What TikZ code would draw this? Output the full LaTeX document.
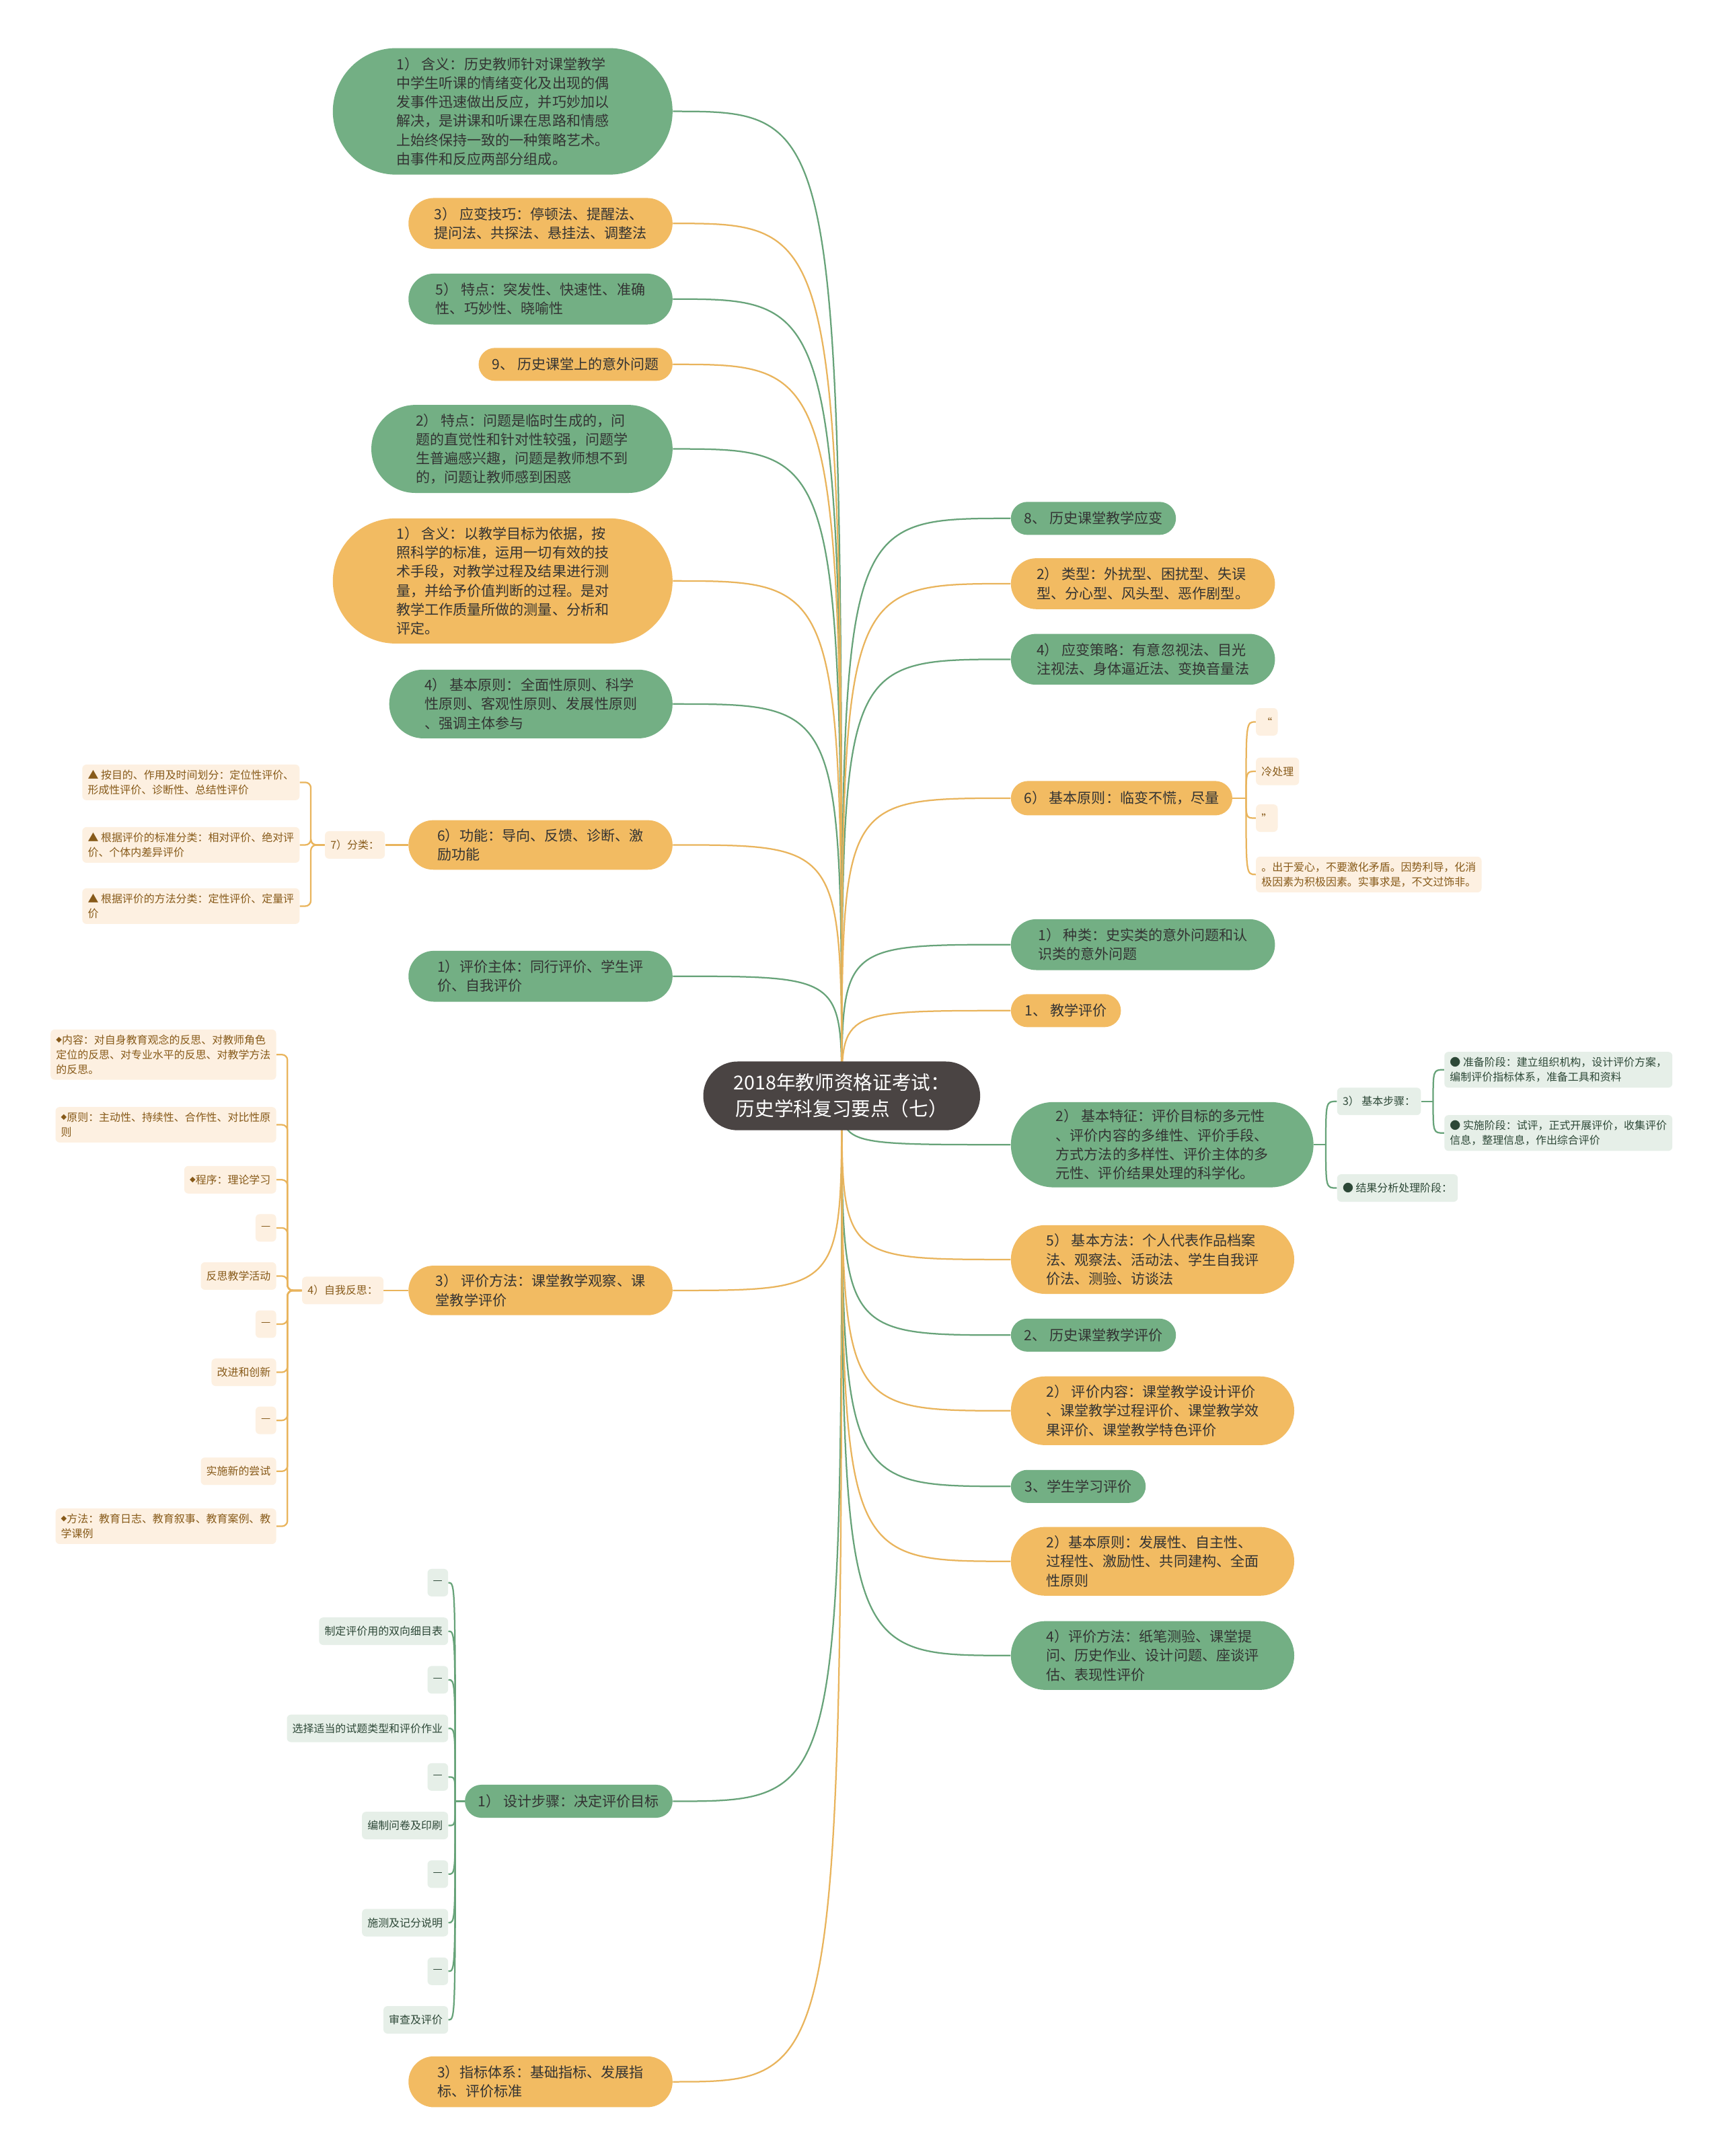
\documentclass[tikz,border=0pt]{standalone}
\usepackage{fontspec}
\setmainfont{Noto Sans CJK SC}
\newfontfamily\symfont{DejaVu Sans}
\newcommand{\leafdia}{\raisebox{1.6pt}{\symfont\fontsize{5.5}{6}\selectfont ◆}}
\usetikzlibrary{shapes.misc}
\definecolor{tgreen}{RGB}{115,175,132}
\definecolor{torange}{RGB}{242,187,98}
\definecolor{tdark}{RGB}{74,68,67}
\definecolor{lgreen}{RGB}{103,163,121}
\definecolor{lorange}{RGB}{233,180,92}
\definecolor{cream}{RGB}{253,240,225}
\definecolor{creamtext}{RGB}{135,90,25}
\definecolor{pale}{RGB}{230,239,232}
\definecolor{paletext}{RGB}{45,72,55}
\definecolor{ink}{RGB}{51,51,51}
\pgfdeclarelayer{bg}
\pgfsetlayers{bg,main}
\begin{document}
\begin{tikzpicture}[x=1pt,y=-1pt,
  wh/.style 2 args={minimum width=#1,minimum height=#2},
  gnode/.style={rounded rectangle,fill=tgreen,text=ink,align=left,inner xsep=2pt,inner ysep=2pt,font=\fontsize{10.3}{13.8}\selectfont},
  onode/.style={gnode,fill=torange},
  hubnode/.style={rounded rectangle,fill=tdark,text=white,align=center,font=\fontsize{14}{19}\selectfont},
  cleaf/.style={rectangle,rounded corners=3pt,fill=cream,text=creamtext,align=left,inner xsep=4pt,inner ysep=4pt,minimum height=20pt,font=\fontsize{7.8}{10.6}\selectfont},
  pleaf/.style={cleaf,fill=pale,text=paletext},
  gline/.style={draw=lgreen,line width=1.1pt},
  oline/.style={draw=lorange,line width=1.1pt},
  branch/.style={to path={.. controls (\tikztostart |- \tikztotarget) .. (\tikztotarget)}}]
\useasboundingbox (0,0) rectangle (1252,1568);
\node[hubnode,wh={208}{50}] (hub) at (612,797) {2018年教师资格证考试：\\历史学科复习要点（七）};
% left branches
\node[gnode,wh={251}{92}] (l1) at (365.5,81) {1） 含义：历史教师针对课堂教学\\中学生听课的情绪变化及出现的偶\\发事件迅速做出反应，并巧妙加以\\解决，是讲课和听课在思路和情感\\上始终保持一致的一种策略艺术。\\由事件和反应两部分组成。};
\node[onode,wh={196}{37}] (l2) at (393,162.5) {3） 应变技巧：停顿法、提醒法、\\提问法、共探法、悬挂法、调整法};
\node[gnode,wh={196}{37}] (l3) at (393,217.5) {5） 特点：突发性、快速性、准确\\性、巧妙性、晓喻性};
\node[onode,wh={145}{24}] (l4) at (418.5,265) {9、 历史课堂上的意外问题};
\node[gnode,wh={223}{64}] (l5) at (379.5,326.5) {2） 特点：问题是临时生成的，问\\题的直觉性和针对性较强，问题学\\生普遍感兴趣，问题是教师想不到\\的，问题让教师感到困惑};
\node[onode,wh={251}{91}] (l6) at (365.5,422.5) {1） 含义：以教学目标为依据，按\\照科学的标准，运用一切有效的技\\术手段，对教学过程及结果进行测\\量，并给予价值判断的过程。是对\\教学工作质量所做的测量、分析和\\评定。};
\node[gnode,wh={210}{50}] (l7) at (386,512) {4） 基本原则：全面性原则、科学\\性原则、客观性原则、发展性原则\\、强调主体参与};
\node[onode,wh={196}{36}] (l8) at (393,614.5) {6）功能：导向、反馈、诊断、激\\励功能};
\node[gnode,wh={196}{37}] (l9) at (393,710) {1）评价主体：同行评价、学生评\\价、自我评价};
\node[onode,wh={196}{36}] (l10) at (393,938.5) {3） 评价方法：课堂教学观察、课\\堂教学评价};
\node[gnode,wh={155}{24}] (l11) at (413.5,1310) {1） 设计步骤：决定评价目标};
\node[onode,wh={196}{37}] (l12) at (393,1514) {3）指标体系：基础指标、发展指\\标、评价标准};
% right branches
\node[gnode,wh={124}{24}] (r1) at (795,377) {8、 历史课堂教学应变};
\node[onode,wh={196}{37}] (r2) at (831,424.5) {2） 类型：外扰型、困扰型、失误\\型、分心型、风头型、恶作剧型。};
\node[gnode,wh={196}{37}] (r3) at (831,479.5) {4） 应变策略：有意忽视法、目光\\注视法、身体逼近法、变换音量法};
\node[onode,wh={165}{25}] (r4) at (815.5,580.5) {6） 基本原则：临变不慌，尽量};
\node[gnode,wh={196}{37}] (r5) at (831,687) {1） 种类：史实类的意外问题和认\\识类的意外问题};
\node[onode,wh={84}{24}] (r6) at (775,735) {1、 教学评价};
\node[gnode,wh={224}{62}] (r7) at (845,832.5) {2） 基本特征：评价目标的多元性\\、评价内容的多维性、评价手段、\\方式方法的多样性、评价主体的多\\元性、评价结果处理的科学化。};
\node[onode,wh={210}{50}] (r8) at (838,916) {5） 基本方法：个人代表作品档案\\法、观察法、活动法、学生自我评\\价法、测验、访谈法};
\node[gnode,wh={124}{24}] (r9) at (795,971) {2、 历史课堂教学评价};
\node[onode,wh={210}{50}] (r10) at (838,1026) {2） 评价内容：课堂教学设计评价\\、课堂教学过程评价、课堂教学效\\果评价、课堂教学特色评价};
\node[gnode,wh={102}{24}] (r11) at (784,1081) {3、学生学习评价};
\node[onode,wh={210}{50}] (r12) at (838,1135.5) {2）基本原则：发展性、自主性、\\过程性、激励性、共同建构、全面\\性原则};
\node[gnode,wh={210}{50}] (r13) at (838,1204) {4）评价方法：纸笔测验、课堂提\\问、历史作业、设计问题、座谈评\\估、表现性评价};
% leaves of 6) and 7)
\node[cleaf,anchor=east] (fenlei) at (280,614.5) {7）分类：};
\node[cleaf,anchor=east] (f1) at (218,569) {▲ 按目的、作用及时间划分：定位性评价、\\形成性评价、诊断性、总结性评价};
\node[cleaf,anchor=east] (f2) at (218,614.5) {▲ 根据评价的标准分类：相对评价、绝对评\\价、个体内差异评价};
\node[cleaf,anchor=east] (f3) at (218,659) {▲ 根据评价的方法分类：定性评价、定量评\\价};
\coordinate (fsp) at (226,614.5);
% leaves of 4) self reflection
\node[cleaf,anchor=east] (ziwo) at (279,938.5) {4）自我反思：};
\node[cleaf,anchor=east] (z1) at (201,767) {\leafdia 内容：对自身教育观念的反思、对教师角色\\定位的反思、对专业水平的反思、对教学方法\\的反思。};
\node[cleaf,anchor=east] (z2) at (201,818) {\leafdia 原则：主动性、持续性、合作性、对比性原\\则};
\node[cleaf,anchor=east] (z3) at (201,858) {\leafdia 程序：理论学习};
\node[cleaf,anchor=east] (z4) at (201,893) {—};
\node[cleaf,anchor=east] (z5) at (201,928) {反思教学活动};
\node[cleaf,anchor=east] (z6) at (201,963) {—};
\node[cleaf,anchor=east] (z7) at (201,998) {改进和创新};
\node[cleaf,anchor=east] (z8) at (201,1033) {—};
\node[cleaf,anchor=east] (z9) at (201,1070) {实施新的尝试};
\node[cleaf,anchor=east] (z10) at (201,1110) {\leafdia 方法：教育日志、教育叙事、教育案例、教\\学课例};
\coordinate (zsp) at (209,938.5);
% design steps
\foreach \t [count=\i] in {—,制定评价用的双向细目表,—,选择适当的试题类型和评价作业,—,编制问卷及印刷,—,施测及记分说明,—,审查及评价}
  \node[pleaf,anchor=east] (d\i) at (326,{1151+35.33*(\i-1)}) {\t};
\coordinate (dsp) at (331,1310);
% principle leaves
\node[cleaf,anchor=west] (q1) at (913,525) {“};
\node[cleaf,anchor=west] (q2) at (913,561) {冷处理};
\node[cleaf,anchor=west] (q3) at (913,595) {”};
\node[cleaf,anchor=west] (q4) at (913,636) {。出于爱心，不要激化矛盾。因势利导，化消\\极因素为积极因素。实事求是，不文过饰非。};
\coordinate (qsp) at (906,580.5);
% feature leaves
\node[pleaf,anchor=west] (bz) at (972,801) {3） 基本步骤：};
\node[pleaf,anchor=west] (jg) at (972,864) {● 结果分析处理阶段：};
\node[pleaf,anchor=west] (s1) at (1050,778) {● 准备阶段：建立组织机构，设计评价方案，\\编制评价指标体系，准备工具和资料};
\node[pleaf,anchor=west] (s2) at (1050,824) {● 实施阶段：试评，正式开展评价，收集评价\\信息，整理信息，作出综合评价};
\coordinate (bsp) at (964,832.5);
\coordinate (ssp) at (1042,801);
\begin{pgfonlayer}{bg}
\fill[white] (0,0) rectangle (1252,1568);
\foreach \n in {l1,l3,l5,l7,l9,l11}
  \draw[gline] (hub.center) to[branch] (\n.east);
\foreach \n in {l2,l4,l6,l8,l10,l12}
  \draw[oline] (hub.center) to[branch] (\n.east);
\foreach \n in {r1,r3,r5,r7,r9,r11,r13}
  \draw[gline] (hub.center) to[branch] (\n.west);
\foreach \n in {r2,r4,r6,r8,r10,r12}
  \draw[oline] (hub.center) to[branch] (\n.west);
\draw[oline] (l8.west) -- (fenlei.east);
\foreach \n in {f1,f2,f3}
  \draw[oline,rounded corners=4pt] (fenlei.west) -- (fsp) |- (\n.east);
\draw[oline] (l10.west) -- (ziwo.east);
\foreach \n in {z1,z2,z3,z4,z5,z6,z7,z8,z9,z10}
  \draw[oline,rounded corners=4pt] (ziwo.west) -- (zsp) |- (\n.east);
\draw[gline] (l11.west) -- (dsp);
\foreach \i in {1,...,10}
  \draw[gline] (dsp) to[branch] (d\i.east);
\draw[oline] (r4.east) -- (qsp);
\foreach \n in {q1,q2,q3,q4}
  \draw[oline] (qsp) to[branch] (\n.west);
\draw[gline] (r7.east) -- (bsp);
\foreach \n in {bz,jg}
  \draw[gline] (bsp) to[branch] (\n.west);
\draw[gline] (bz.east) -- (ssp);
\foreach \n in {s1,s2}
  \draw[gline] (ssp) to[branch] (\n.west);
\end{pgfonlayer}
\end{tikzpicture}
\end{document}
